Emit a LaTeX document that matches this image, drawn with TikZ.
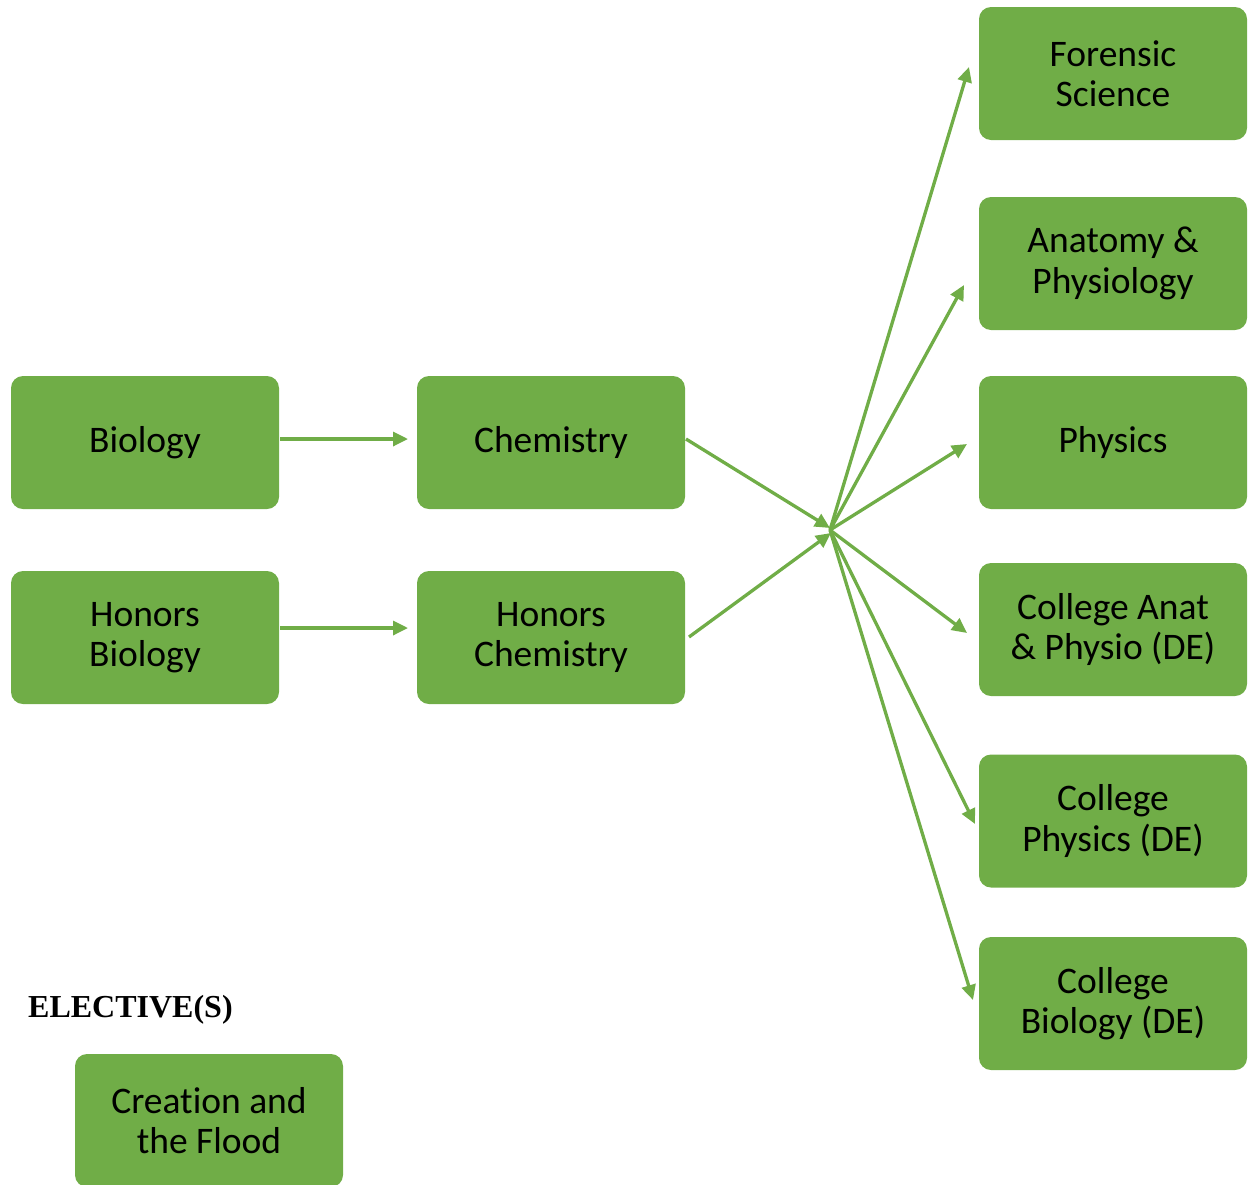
\documentclass[tikz,border=0pt]{standalone}
\usepackage{fontspec}
\setmainfont{Carlito}[Ligatures={NoCommon}]
\newfontfamily\tnr{Liberation Serif}
\usetikzlibrary{arrows.meta}
\definecolor{grn}{HTML}{70AD47}
\tikzset{
  course/.style={draw=none, fill=grn, rounded corners=12pt, minimum width=268pt, minimum height=133pt,
    inner sep=0pt, align=center, font=\fontsize{37.5}{40.5}\selectfont, text=black},
  link/.style={draw=grn, line width=3.3pt, -{Triangle[length=15pt,width=14pt]}},
}
\begin{document}
\begin{tikzpicture}[x=1pt,y=-1pt]
\useasboundingbox (0,0) rectangle (1248,1184);
\node[course] (bio) at (145,442.5) {Biology};
\node[course] (chem) at (551,442.5) {Chemistry};
\node[course] (hbio) at (145,637.5) {Honors\\Biology};
\node[course] (hchem) at (551,637.5) {Honors\\Chemistry};
\node[course] (fs) at (1113,73.5) {Forensic\\Science};
\node[course] (ap) at (1113,263.5) {Anatomy \&\\Physiology};
\node[course] (phy) at (1113,442.5) {Physics};
\node[course] (cap) at (1113,629.5) {College Anat\\\& Physio (DE)};
\node[course] (cphy) at (1113,821) {College\\Physics (DE)};
\node[course] (cbio) at (1113,1003.5) {College\\Biology (DE)};
\node[course] (cf) at (209,1120.5) {Creation and\\the Flood};
\node[anchor=base west, inner sep=0pt, font=\tnr\bfseries\fontsize{32}{36}\selectfont] (el) at (28,1017) {ELECTIVE(S)};
% connector end points
\coordinate (bioS) at (280,439);
\coordinate (chemE) at (408,439);
\coordinate (hbioS) at (280,628);
\coordinate (hchemE) at (408,628);
\coordinate (chemS) at (686,439);
\coordinate (hchemS) at (689,637);
\coordinate (hubA) at (830,528);
\coordinate (hubB) at (831,533);
\coordinate (hub) at (830,530);
\coordinate (fsE) at (969,67);
\coordinate (apE) at (964,285);
\coordinate (phyE) at (967,444);
\coordinate (capE) at (967,633);
\coordinate (cphyE) at (975,824);
\coordinate (cbioE) at (973,1000);
\draw[link] (bioS) -- (chemE);
\draw[link] (hbioS) -- (hchemE);
\draw[link] (chemS) -- (hubA);
\draw[link] (hchemS) -- (hubB);
\draw[link] (hub) -- (fsE);
\draw[link] (hub) -- (apE);
\draw[link] (hub) -- (phyE);
\draw[link] (hub) -- (capE);
\draw[link] (hub) -- (cphyE);
\draw[link] (hub) -- (cbioE);
\end{tikzpicture}
\end{document}
